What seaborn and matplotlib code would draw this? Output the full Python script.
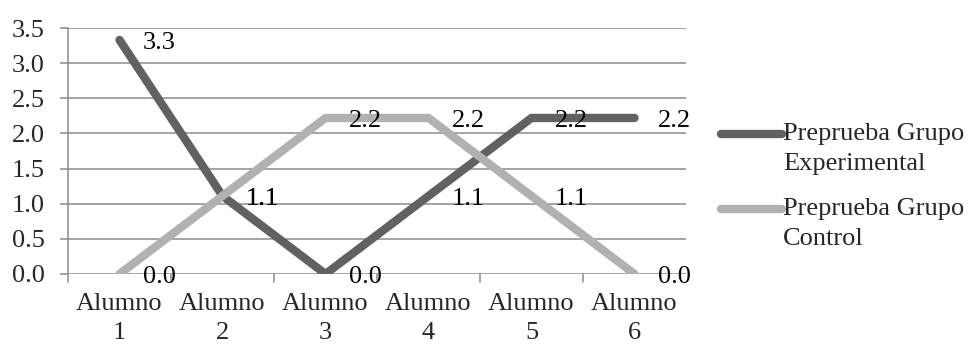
import matplotlib
matplotlib.use("Agg")
import matplotlib.pyplot as plt
from matplotlib.lines import Line2D
from matplotlib.legend_handler import HandlerLine2D
import seaborn as sns
import pandas as pd

# Data
alumnos = ["Alumno\n1", "Alumno\n2", "Alumno\n3", "Alumno\n4", "Alumno\n5", "Alumno\n6"]
experimental = [3.33, 1.11, 0.0, 1.11, 2.22, 2.22]
control = [0.0, 1.11, 2.22, 2.22, 1.11, 0.0]
series = ["Preprueba Grupo\nExperimental", "Preprueba Grupo\nControl"]
colores = ["#616161", "#b1b1b1"]
y_ticks = [0.0, 0.5, 1.0, 1.5, 2.0, 2.5, 3.0, 3.5]

sns.set_style("white")
plt.rcParams["font.family"] = ["Liberation Serif", "DejaVu Serif"]
FS = 19


class FirstLineHandler(HandlerLine2D):
    """Legend line aligned with the first line of a two-line label."""
    def create_artists(self, legend, orig_handle, xdescent, ydescent, width, height, fontsize, trans):
        arts = super().create_artists(legend, orig_handle, xdescent, ydescent,
                                      width, height, fontsize, trans)
        for a in arts:
            a.set_ydata([y + 0.55 * fontsize for y in a.get_ydata()])
        return arts


df = pd.DataFrame({
    "pos": list(range(len(alumnos))) * 2,
    "valor": experimental + control,
    "serie": [series[0]] * len(alumnos) + [series[1]] * len(alumnos),
})

fig = plt.figure(figsize=(9.69, 3.45), dpi=100)
ax = fig.add_axes([68 / 969, 1 - 274 / 345, (686 - 68) / 969, (274 - 28) / 345])

grid_c = "#8c8c8c"
for y in y_ticks:
    ax.axhline(y, color=grid_c, lw=1.1, zorder=1)

sns.lineplot(data=df, x="pos", y="valor", hue="serie", hue_order=series,
             palette=colores, linewidth=6, ax=ax, legend=False, zorder=3,
             estimator=None, sort=False)
for ln in ax.get_lines():
    if ln.get_linewidth() > 3:
        ln.set_solid_capstyle("round")
        ln.set_solid_joinstyle("miter")

# data labels to the right of each point
for vals in (experimental, control):
    for i, v in enumerate(vals):
        ax.annotate(f"{v:.1f}", xy=(i, v), xytext=(17, -2), textcoords="offset points",
                    ha="left", va="center", fontsize=FS, color="black", zorder=5)

ax.set_xlim(-0.5, len(alumnos) - 0.5)
ax.set_ylim(0, 3.5)
ax.set_yticks(y_ticks)
ax.set_yticklabels([f"{t:.1f}" for t in y_ticks], fontsize=FS)
ax.set_xticks(range(len(alumnos)))
ax.set_xticklabels(alumnos, fontsize=FS, linespacing=1.38)
ax.tick_params(axis="x", length=0, pad=14)
ax.tick_params(axis="y", length=6, width=1.1, color=grid_c, pad=11, direction="out", left=True)
ax.set_xlabel("")
ax.set_ylabel("")

# category boundary ticks below the axis
for b in [-0.5, 0.5, 1.5, 2.5, 3.5, 4.5]:
    ax.plot([b, b], [0, -0.12], color=grid_c, lw=1.1, clip_on=False, zorder=1)

for s in ["top", "right", "bottom"]:
    ax.spines[s].set_visible(False)
ax.spines["left"].set_color(grid_c)
ax.spines["left"].set_linewidth(1.1)

handles = [Line2D([0], [0], color=c, lw=6, solid_capstyle="round") for c in colores]
leg = fig.legend(handles, series, loc="upper left", bbox_to_anchor=(721 / 969, 1 - 123 / 345),
                 frameon=False, fontsize=FS, handlelength=2.3, handletextpad=0.05,
                 labelspacing=0.9, borderaxespad=0, borderpad=0,
                 handler_map={Line2D: FirstLineHandler()})
for t in leg.get_texts():
    t.set_linespacing(1.45)

fig.savefig("out.png", dpi=100)
